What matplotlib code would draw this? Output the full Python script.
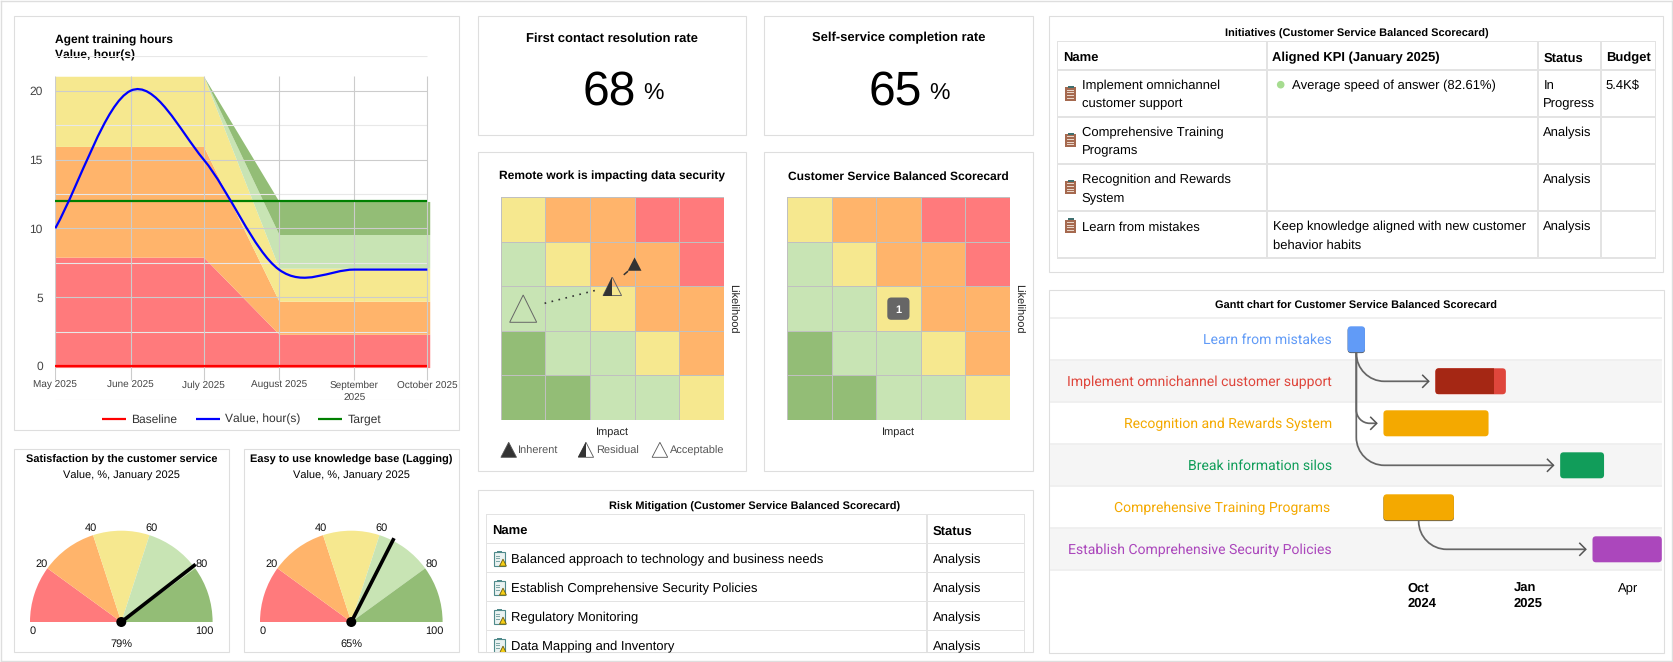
import numpy as np
import pandas as pd
import matplotlib
matplotlib.use("Agg")
import matplotlib.pyplot as plt
import matplotlib.dates as mdates
from matplotlib.colors import ListedColormap
from matplotlib.patches import Rectangle, Wedge, Circle, Polygon, FancyBboxPatch, PathPatch
from matplotlib.path import Path

plt.rcParams['font.family'] = ['Liberation Sans', 'DejaVu Sans']
plt.rcParams['text.hinting'] = 'none'
plt.rcParams['text.hinting_factor'] = 1

W, H = 1673, 662

# ---- data ----
RED, ORANGE, YELLOW, LGREEN, DGREEN = '#FF7A7C', '#FFB46B', '#F6E88F', '#C8E4B4', '#93BD76'
ZONE_COLORS = [RED, ORANGE, YELLOW, LGREEN, DGREEN]

line_title = 'Agent training hours'
line_subtitle = 'Value, hour(s)'
month_dates = ['2025-05-01', '2025-06-01', '2025-07-01', '2025-08-01', '2025-09-01', '2025-10-01']
month_labels = ['May 2025', 'June 2025', 'July 2025', 'August 2025', 'September\n2025', 'October 2025']
values = [10, 20, 15, 7, 7, 7]
baseline = [0, 0, 0, 0, 0, 0]
target = [12, 12, 12, 12, 12, 12]
band_dates = ['2025-05-01', '2025-06-01', '2025-07-01', '2025-08-01', '2025-09-01', '2025-10-02']
band_red = [7.9, 7.9, 7.9, 2.3, 2.3, 2.3]
band_orange = [15.95, 15.95, 15.95, 4.7, 4.7, 4.7]
band_yellow = [21.05, 21.05, 21.05, 7.1, 7.1, 7.1]
band_lgreen = [21.05, 21.05, 21.05, 9.55, 9.55, 9.55]
band_dgreen = [21.05, 21.05, 21.05, 11.95, 11.95, 11.95]
band_floor = -0.12
y_major = [0, 5, 10, 15, 20]
y_minor = [-2.5, 2.5, 7.5, 12.5, 17.5, 22.5]

gauge_titles = ['Satisfaction by the customer service', 'Easy to use knowledge base (Lagging)']
gauge_subtitle = 'Value, %, January 2025'
gauge_values = [79, 65]
gauge_stops = [0, 20, 40, 60, 80, 100]

kpi_titles = ['First contact resolution rate', 'Self-service completion rate']
kpi_values = ['68', '65']

matrix_titles = ['Remote work is impacting data security', 'Customer Service Balanced Scorecard']
matrix_levels = [  # bottom row first, 0=red ... 4=dark green
    [4, 4, 3, 3, 2],
    [4, 3, 3, 2, 1],
    [3, 3, 2, 1, 1],
    [3, 2, 1, 1, 0],
    [2, 1, 1, 0, 0],
]
inherent_pt = (3.0, 3.5)
residual_pt = (2.5, 3.0)
acceptable_pt = (0.5, 2.5)
badge_pt = (2.5, 2.5)
badge_text = '1'

risk_title = 'Risk Mitigation (Customer Service Balanced Scorecard)'
risk_names = ['Balanced approach to technology and business needs',
              'Establish Comprehensive Security Policies',
              'Regulatory Monitoring', 'Data Mapping and Inventory']
risk_status = ['Analysis', 'Analysis', 'Analysis', 'Analysis']

init_title = 'Initiatives (Customer Service Balanced Scorecard)'
init_headers = ['Name', 'Aligned KPI (January 2025)', 'Status', 'Budget']
init_names = [['Implement omnichannel', 'customer support'],
              ['Comprehensive Training', 'Programs'],
              ['Recognition and Rewards', 'System'],
              ['Learn from mistakes']]
init_kpi = [['Average speed of answer (82.61%)'], [], [],
            ['Keep knowledge aligned with new customer', 'behavior habits']]
init_status = [['In', 'Progress'], ['Analysis'], ['Analysis'], ['Analysis']]
init_budget = ['5.4K$', '', '', '']

gantt_title = 'Gantt chart for Customer Service Balanced Scorecard'
gantt_tasks = ['Learn from mistakes', 'Implement omnichannel customer support',
               'Recognition and Rewards System', 'Break information silos',
               'Comprehensive Training Programs', 'Establish Comprehensive Security Policies']
gantt_start = ['2024-08-10', '2024-10-25', '2024-09-10', '2025-02-10', '2024-09-10', '2025-03-10']
gantt_end = ['2024-08-25', '2024-12-25', '2024-12-10', '2025-03-20', '2024-11-10', '2025-05-09']
gantt_done = [0, 0.83, 0, 0, 0, 0]
gantt_colors = ['#619BF7', '#DF463C', '#F4A900', '#119D5A', '#F4A900', '#AB47BC']
gantt_dark = [None, '#A52714', None, None, None, None]
gantt_deps = [(0, 1), (0, 2), (0, 3), (4, 5)]
gantt_ticks = ['2024-10-01', '2025-01-01', '2025-04-01']
gantt_tick_lines = [['Oct', '2024'], ['Jan', '2025'], ['Apr']]

# ---- helpers ----
fig = plt.figure(figsize=(W / 100, H / 100), dpi=100, facecolor='white')
ov = fig.add_axes([0, 0, 1, 1], zorder=0)
ov.set_xlim(0, W)
ov.set_ylim(H, 0)
ov.axis('off')
BORDER = '#DEDEDE'


def axpx(x0, y0, x1, y1, **kw):
    ax = fig.add_axes([x0 / W, 1 - y1 / H, (x1 - x0) / W, (y1 - y0) / H], **kw)
    ax.patch.set_alpha(0)
    return ax


def txt(x, y, s, px=13, weight='normal', color='#000000', ha='left', family=None, target=None, **kw):
    """y is the visual centre of the capitals, in figure pixels."""
    kw2 = dict(fontsize=px * 0.72, fontweight=weight, color=color, ha=ha, va='baseline')
    if family:
        kw2['family'] = family
    kw2.update(kw)
    if target is not None:
        return target.text(x, y + 0.36 * px, s, transform=ov.transData, clip_on=False, **kw2)
    return ov.text(x, y + 0.36 * px, s, **kw2)


def panel(x0, y0, x1, y1):
    ov.add_patch(Rectangle((x0, y0), x1 - x0, y1 - y0, fc='white', ec=BORDER, lw=0.8, zorder=1))


for a in ([(0.5, 0.5), (W - 0.8, 0.5)], [(0.5, 661.2), (W - 0.8, 661.2)],
          [(0.5, 0.5), (0.5, 661.2)], [(W - 0.8, 0.5), (W - 0.8, 661.2)]):
    ov.plot(*zip(*a), color=BORDER, lw=1.0, zorder=1)

# ---- panel 1: line chart ----
panel(14.5, 16.3, 458.7, 430)
x_m = mdates.date2num(pd.to_datetime(month_dates))
x_b = mdates.date2num(pd.to_datetime(band_dates))
px_per_day = (427.3 - 55.3) / (x_m[-1] - x_m[0])
ax = axpx(55.3, 56.3, 430.0, 400.3, zorder=2)
ax.set_xlim(x_m[0], x_m[-1] + 2.7 / px_per_day)
ax.set_ylim(-2.5, 22.5)
for s in ax.spines.values():
    s.set_visible(False)
prev = np.full(6, band_floor)
for arr, col in zip([band_red, band_orange, band_yellow, band_lgreen, band_dgreen], ZONE_COLORS):
    ax.fill_between(x_b, prev, arr, color=col, lw=0, zorder=1)
    prev = np.array(arr)
ax.hlines(y_minor, x_m[0], x_m[-1], color='#E8E8E8', lw=0.8, zorder=2)
ax.hlines(y_major, x_m[0], x_m[-1], color='#CCCCCC', lw=0.8, zorder=2)
ax.vlines(x_m, -1.03, 21.05, color='#CCCCCC', lw=0.8, zorder=2)
ax.set_yticks(y_major, [str(v) for v in y_major])
ax.set_xticks(x_m, month_labels)
ax.tick_params(axis='y', length=0, pad=9, labelsize=8.7, labelcolor='#444444')
ax.tick_params(axis='x', length=0, pad=-13.8, labelsize=7.1, labelcolor='#444444')
for lab_ in ax.get_xticklabels():
    lab_.set_linespacing(1.45)
ax.plot(x_m, baseline, color='#FF0000', lw=1.6, zorder=4, solid_capstyle='butt')
ax.plot(x_m, target, color='#008000', lw=1.6, zorder=4, solid_capstyle='butt')
# smooth value line: Hermite tangents turned into Bezier handles
vals = np.array(values, float)
tang = np.zeros(6)
tang[1:-1] = (vals[2:] - vals[:-2]) / (x_m[2:] - x_m[:-2])
tang[0] = (vals[1] - vals[0]) / (x_m[1] - x_m[0])
verts, codes = [(x_m[0], vals[0])], [Path.MOVETO]
for i in range(5):
    h = x_m[i + 1] - x_m[i]
    verts += [(x_m[i] + h / 3, vals[i] + tang[i] * h / 3),
              (x_m[i + 1] - h / 3, vals[i + 1] - tang[i + 1] * h / 3),
              (x_m[i + 1], vals[i + 1])]
    codes += [Path.CURVE4] * 3
ax.add_patch(PathPatch(Path(verts, codes), fc='none', ec='#0000FF', lw=1.6, zorder=5))
txt(55, 38.7, line_title, 12, 'bold')
t = txt(55, 54.3, line_subtitle, 12, 'bold')
for x0, x1, tx, lab, col in [(102.3, 126, 131.3, 'Baseline', '#FF0000'),
                             (196.3, 220, 225, 'Value, hour(s)', '#0000FF'),
                             (318.3, 342, 347.3, 'Target', '#008000')]:
    ov.plot([x0, x1], [418.7, 418.7], color=col, lw=1.6, zorder=3, solid_capstyle='butt')
    txt(tx, 418.7, lab, 11.8, color='#333333', zorder=3)

# ---- gauges ----
for (x0, x1, cx), title, val in zip([(14.5, 228.7, 121.3), (244.3, 458.7, 351.3)], gauge_titles, gauge_values):
    panel(x0, 449, x1, 652.3)
    mid = (x0 + x1) / 2
    txt(mid, 458.3, title, 11, 'bold', ha='center', zorder=3)
    txt(mid, 475, gauge_subtitle, 11, ha='center', zorder=3)
    R = 91.3
    m = 25.0
    g = axpx(cx - R - m, 622 - R - m, cx + R + m, 622 + m, zorder=2)
    g.set_xlim(-1 - m / R, 1 + m / R)
    g.set_ylim(-m / R, 1 + m / R)
    g.axis('off')
    ang = lambda v: 180 * (1 - v / 100)
    for i, col in enumerate(ZONE_COLORS):
        g.add_patch(Wedge((0, 0), 1, ang(gauge_stops[i + 1]), ang(gauge_stops[i]), fc=col, ec='none'))
    for v in gauge_stops:
        a = np.radians(ang(v))
        if v in (0, 100):
            px_, py_ = (-0.97, -0.095) if v == 0 else (0.91, -0.095)
        else:
            px_, py_ = 1.085 * np.cos(a), 1.085 * np.sin(a)
        g.text(px_, py_, str(v), fontsize=7.6, ha='center', va='center', color='#111111')
    a = np.radians(ang(val))
    g.plot([0, 1.03 * np.cos(a)], [0, 1.03 * np.sin(a)], color='black', lw=2.6, solid_capstyle='butt')
    g.add_patch(Circle((0, 0), 5 / R, fc='black', ec='none', zorder=5))
    txt(mid, 643.3, f'{val}%', 10.8, ha='center', zorder=3, color='#111111')

# ---- KPI cards ----
for (x0, x1), title, v, dx in zip([(478.4, 746.3), (764.4, 1032.7)], kpi_titles, kpi_values, [582.2, 868.3]):
    panel(x0, 16.3, x1, 135.4)
    txt((x0 + x1) / 2, 36.7, title, 13, 'bold', ha='center', zorder=3)
    txt(dx, 86.7, v, 48.5, zorder=3)
    txt(dx + 61.3, 91.7, '%', 23.3, zorder=3)

# ---- risk matrices ----
cmap = ListedColormap(ZONE_COLORS)
for k, (x0, x1, gx) in enumerate([(478.4, 746.3, 500.9), (764.4, 1032.7, 787.0)]):
    panel(x0, 152.4, x1, 471.3)
    gw = 222.8
    txt(gx + gw / 2, 175.3, matrix_titles[k], 12, 'bold', ha='center', zorder=3)
    m_ax = axpx(gx, 197.3, gx + gw, 420, zorder=2)
    m_ax.pcolormesh(np.arange(6), np.arange(6), np.array(matrix_levels), cmap=cmap, vmin=0, vmax=4,
                    edgecolors='#C0C0C0', linewidth=0.6)
    m_ax.set_xlim(0, 5)
    m_ax.set_ylim(0, 5)
    m_ax.axis('off')
    txt(gx + gw / 2, 431, 'Impact', 11, ha='center', zorder=3, color='#222222')
    ov.text(gx + 231, 308.3, 'Likelihood', fontsize=11 * .72, rotation=270, ha='center', va='center',
            zorder=3, color='#222222')
    u = 5 / gw  # data units per pixel in the matrix
    if k == 0:
        def tri(pt, w, h, fc, ec, lw=0.7):
            return Polygon([(pt[0] - w / 2 * u, pt[1] - h / 2 * u), (pt[0] + w / 2 * u, pt[1] - h / 2 * u),
                            (pt[0], pt[1] + h / 2 * u)], closed=True, fc=fc, ec=ec, lw=lw, zorder=5)
        m_ax.add_patch(tri(acceptable_pt, 27, 27.3, 'none', '#666666'))
        m_ax.add_patch(tri(residual_pt, 18.5, 18.3, 'none', '#666666'))
        m_ax.add_patch(Polygon([(residual_pt[0] - 9.25 * u, residual_pt[1] - 9.15 * u),
                                (residual_pt[0], residual_pt[1] - 9.15 * u),
                                (residual_pt[0], residual_pt[1] + 9.15 * u)], closed=True, fc='#333333', ec='none', zorder=6))
        m_ax.add_patch(tri(inherent_pt, 13.8, 13.3, '#333333', 'none'))
        # connectors between the assessments, stopped short of the markers
        m_ax.plot([acceptable_pt[0] + 0.48, residual_pt[0] - 0.34], [acceptable_pt[1] + 0.12, residual_pt[1] - 0.08],
                  color='#333333', lw=1.2, ls=(0, (1, 3.3)), zorder=4)
        m_ax.plot([residual_pt[0] + 0.27, residual_pt[0] + 0.34], [residual_pt[1] + 0.27, residual_pt[1] + 0.33],
                  color='#333333', lw=1.1, zorder=4)
    else:
        bw, bh = 22.2 * u, 22.3 * u
        m_ax.add_patch(FancyBboxPatch((badge_pt[0] - bw / 2 + 4 * u, badge_pt[1] - bh / 2 + 4 * u),
                                      bw - 8 * u, bh - 8 * u, boxstyle=f'round,pad={4 * u},rounding_size={4 * u}',
                                      fc='#666666', ec='none', zorder=5))
        m_ax.text(badge_pt[0], badge_pt[1], badge_text, fontsize=8, fontweight='bold', color='white',
                  ha='center', va='center_baseline', zorder=6)
# matrix legend
for (x0, x1, tx, lab, kind) in [(500.9, 516.5, 518.3, 'Inherent', 'full'),
                                (578.3, 593.6, 595.8, 'Residual', 'half'),
                                (652.1, 667.7, 669.6, 'Acceptable', 'empty')]:
    mx = (x0 + x1) / 2
    ov.add_patch(Polygon([(x0, 457.3), (x1, 457.3), (mx, 442.3)], closed=True,
                         fc='#333333' if kind == 'full' else 'white', ec='#555555', lw=0.6, zorder=3))
    if kind == 'half':
        ov.add_patch(Polygon([(x0, 457.3), (mx, 457.3), (mx, 442.3)], closed=True, fc='#333333', ec='none', zorder=4))
    txt(tx, 450, lab, 11, color='#555555', zorder=3)


# ---- small icons ----
def risk_icon(cx, cy, clip):
    parts = [Rectangle((cx - 5.7, cy - 6.6), 10.6, 14, fc='#EAF2F1', ec='#4F8A8B', lw=0.8, zorder=4),
             Rectangle((cx - 2.8, cy - 7.6), 4.8, 2.2, fc='#4F8A8B', ec='none', zorder=4)]
    for dy in (-3, -0.5, 2):
        parts.append(Rectangle((cx - 4, cy + dy), 4, 0.9, fc='#7FA8A8', ec='none', zorder=4))
    parts.append(Polygon([(cx - 0.5, cy + 7.4), (cx + 6.4, cy + 7.4), (cx + 3, cy + 0.4)], closed=True,
                         fc='#F5CF16', ec='#6B5B10', lw=0.6, zorder=5))
    for p in parts:
        ov.add_patch(p)
        p.set_clip_path(clip)


def plan_icon(cx, cy):
    ov.add_patch(Rectangle((cx - 5.3, cy - 6), 10.6, 13.3, fc='#A5694F', ec='none', zorder=4))
    ov.add_patch(Rectangle((cx - 3, cy - 7.4), 6, 2.2, fc='#3F6F6F', ec='none', zorder=5))
    for dy in (-3, -0.3, 2.4, 5):
        ov.add_patch(Rectangle((cx - 3.6, cy + dy - 0.6), 7.2, 1.1, fc='#E8D5C8', ec='none', zorder=5))


# ---- risk table ----
panel(478.4, 490.3, 1032.7, 652.3)
txt(755, 506, risk_title, 11, 'bold', ha='center', zorder=3)
clip = Rectangle((478.4, 490.3), 554.3, 162, transform=ov.transData)
GRID = '#E3E3E3'
ov.add_patch(Rectangle((485.6, 513.9), 539.8, 138.4, fc=GRID, ec='none', zorder=2))
rk_top = [515, 544.3, 573.3, 602.3, 631.3]
rk_bot = [543.3, 572.3, 601.3, 630.3, 652.3]
for y0, y1 in zip(rk_top, rk_bot):
    for cx0, cx1 in [(486.7, 926.2), (928, 1024.5)]:
        ov.add_patch(Rectangle((cx0, y0), cx1 - cx0, y1 - y0, fc='white', ec='none', zorder=3))
txt(491.8, 530.6, 'Name', 13, 'bold', zorder=4)
txt(932.7, 530.6, 'Status', 13, 'bold', zorder=4)
for i, (n, s) in enumerate(zip(risk_names, risk_status)):
    yc = 558.7 + 29 * i
    t1 = txt(511, yc, n, 13, zorder=4)
    t2 = txt(932.7, yc, s, 13, zorder=4)
    t1.set_clip_path(clip)
    t2.set_clip_path(clip)
    risk_icon(500, yc, clip)

# ---- initiatives table ----
panel(1049.3, 16.3, 1663.3, 272.4)
txt(1356.5, 32.3, init_title, 11, 'bold', ha='center', zorder=3)
ov.add_patch(Rectangle((1056.7, 40.6), 599.4, 217.9, fc=GRID, ec='none', zorder=2))
cols = [(1058, 1266), (1268, 1536.9), (1539, 1600), (1601.7, 1655.2)]
rows = [(41.7, 69.3), (71, 116.3), (118, 163.3), (165, 210.3), (212, 257.3)]
for y0, y1 in rows:
    for c0, c1 in cols:
        ov.add_patch(Rectangle((c0, y0), c1 - c0, y1 - y0, fc='white', ec='none', zorder=3))
for x, h in zip([1062.7, 1272.3, 1543.3, 1606], init_headers):
    txt(x, 56.7, h, 13, 'bold', zorder=4)
first_lines = [84.7, 131.7, 178.7, 225.7]
icon_y = [93.3, 140, 187, 225.5]
for i in range(4):
    y = first_lines[i]
    plan_icon(1070.7, icon_y[i])
    for j, s in enumerate(init_names[i]):
        txt(1081.7, y + 18 * j, s, 13, zorder=4)
    for j, s in enumerate(init_status[i]):
        txt(1543.3, y + 18 * j, s, 13, zorder=4)
    if init_budget[i]:
        txt(1605.7, y, init_budget[i], 13, zorder=4)
    if i == 0:
        ov.add_patch(Circle((1280.7, y), 3.8, fc='#A6DC90', ec='none', zorder=4))
        txt(1292, y, init_kpi[i][0], 13, zorder=4)
    else:
        for j, s in enumerate(init_kpi[i]):
            txt(1272.7, y + 18 * j, s, 13, zorder=4)

# ---- gantt ----
panel(1049.3, 290.3, 1663.7, 652.6)
txt(1355.8, 305, gantt_title, 11.2, 'bold', ha='center', zorder=3)
DAY = 1.155
ROW = 42.0
tick0 = mdates.date2num(pd.Timestamp(gantt_ticks[0]))
G_L, G_R, G_T, G_B = 1050.0, 1661.7, 318.3, 570.3
ga = axpx(G_L, G_T, G_R, G_B, zorder=2)
ga.set_xlim(tick0 - (1407.7 - G_L) / DAY, tick0 + (G_R - 1407.7) / DAY)
ga.set_ylim(5.5, -0.5)
ga.axis('off')
starts = mdates.date2num(pd.to_datetime(gantt_start))
ends = mdates.date2num(pd.to_datetime(gantt_end))
xl = ga.get_xlim()
for r in range(6):
    if r % 2:
        ga.add_patch(Rectangle((xl[0], r - 0.5), xl[1] - xl[0], 1, fc='#F5F5F5', ec='none', zorder=0))
ga.hlines(np.arange(-0.5, 6), xl[0], xl[1], color='#EFEFEF', lw=1.3, zorder=1, clip_on=False)
dep_sources = {a for a, b in gantt_deps}
asp = DAY / ROW
rd = 3.5 / DAY
for r in range(6):
    hh = 13.0 / ROW
    def bar(x0, x1, yoff, col, z):
        p = FancyBboxPatch((x0 + rd, r - hh + rd * asp + yoff), x1 - x0 - 2 * rd, 2 * hh - 2 * rd * asp,
                           boxstyle=f'round,pad={rd},rounding_size={rd}', mutation_aspect=asp,
                           fc=col, ec='none', zorder=z)
        ga.add_patch(p)
        return p
    if r in dep_sources:
        bar(starts[r], ends[r], 0.8 / ROW, '#555555', 3)
    b = bar(starts[r], ends[r], 0, gantt_colors[r], 4)
    if gantt_dark[r]:
        d = Rectangle((starts[r], r - hh), (ends[r] - starts[r]) * gantt_done[r], 2 * hh,
                      fc=gantt_dark[r], ec='none', zorder=5)
        ga.add_patch(d)
        d.set_clip_path(b)
    off = 1.5 if r == 4 else 0
    txt(1331.7 - off, 339 + ROW * r, gantt_tasks[r], 14.05, color=gantt_colors[r], ha='right', family='Roboto',
        target=ga, zorder=3)
GAP = 6.7 / DAY
for a, b_ in gantt_deps:
    xm = (starts[a] + ends[a]) / 2
    ya = a + 13.0 / ROW
    tip = starts[b_] - GAP
    rad_x = min(28 / DAY, (tip - xm) * 0.65)
    rad_y = rad_x * DAY / ROW
    k = 0.55
    verts = [(xm, ya), (xm, b_ - rad_y), (xm, b_ - rad_y * (1 - k)), (xm + rad_x * (1 - k), b_), (xm + rad_x, b_), (tip, b_)]
    codes = [Path.MOVETO, Path.LINETO, Path.CURVE4, Path.CURVE4, Path.CURVE4, Path.LINETO]
    ga.add_patch(PathPatch(Path(verts, codes), fc='none', ec='#666666', lw=1.25, zorder=6))
    ga.plot([tip - 6 / DAY, tip, tip - 6 / DAY], [b_ - 6 / ROW, b_, b_ + 6 / ROW], color='#555555', lw=1.1, zorder=6,
            solid_joinstyle='miter')
for d, lines in zip(gantt_ticks, gantt_tick_lines):
    x = mdates.date2num(pd.Timestamp(d))
    weight = 'bold' if len(lines) > 1 else 'normal'
    for j, s in enumerate(lines):
        yy = 587.3 + 15 * j
        ga.text(x, (yy + 0.36 * 13 - 339) / ROW, s, fontsize=13 * .72, fontweight=weight, ha='left', va='baseline',
                clip_on=False, zorder=6)

fig.savefig('out.png', dpi=100)
